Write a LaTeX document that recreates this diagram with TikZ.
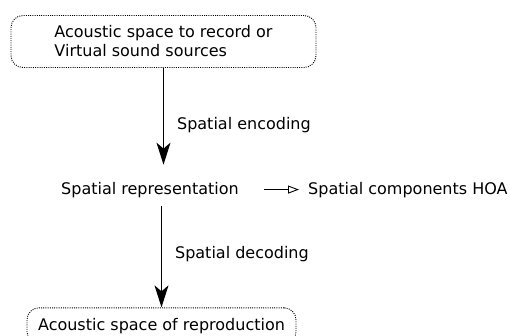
\documentclass[tikz,border=0pt]{standalone}
\usepackage{fontspec}
\setmainfont{DejaVu Sans}
\usepackage{xcolor}
\usepackage{tikz}
\usetikzlibrary{arrows.meta,positioning,calc}
\definecolor{cInk}{HTML}{000000}
\tikzset{
  dbox/.style={draw=cInk,rounded corners=12pt,line width=0.9pt,dash pattern=on 1pt off 1.2pt,font=\fontsize{16}{19}\selectfont,text=cInk},
  plain/.style={font=\fontsize{16}{19}\selectfont,text=cInk,inner xsep=8pt,inner ysep=8pt},
  flow/.style={-{Stealth[length=22pt,width=14pt,inset=6pt]},line width=1.2pt,color=cInk},
  hollow/.style={-{Triangle[open,length=11pt,width=8pt]},line width=0.9pt,color=cInk},
  lbl/.style={font=\fontsize{16}{19}\selectfont,text=cInk,inner sep=0pt,anchor=west,xshift=13pt},
}
\begin{document}
\begin{tikzpicture}[x=1pt,y=-1pt]
        \useasboundingbox (0,0) rectangle (514,335);
        \clip (0,0) rectangle (514,335);
        \node[dbox,align=left,minimum width=305pt,minimum height=52pt] (src) at (163.5,41.5)
          {Acoustic space to record or\\Virtual sound sources};
        \node[plain,anchor=base] (rep) at (150,194) {Spatial representation};
        \node[plain,anchor=base west] (hoa) at (300,194) {Spatial components HOA};
        \node[dbox,minimum width=269pt,minimum height=36pt] (dst) at (161.5,325.8)
          {Acoustic space of reproduction};
        \draw[flow,shorten >=9pt] (src.south) -- (src.south |- rep.north)
          node[lbl,pos=0.54] {Spatial encoding};
        \draw[flow] (dst.north |- rep.south) -- (dst.north)
          node[lbl,pos=0.48] {Spatial decoding};
        \draw[hollow,shorten <=17pt,shorten >=1pt] (rep.east) -- (hoa.west);
      \end{tikzpicture}
\end{document}
